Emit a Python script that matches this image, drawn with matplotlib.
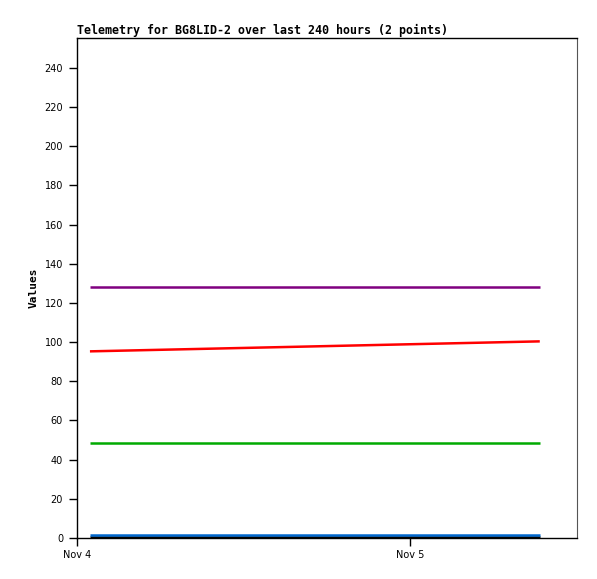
import matplotlib
matplotlib.use("Agg")
import matplotlib.pyplot as plt
from datetime import datetime

# two sample times
times = [datetime(2023, 11, 4, 0, 56), datetime(2023, 11, 5, 9, 22)]
series_purple = [128, 128]
series_red = [95.3, 100.4]
series_green = [48.4, 48.4]
series_blue = [1.7, 1.7]
series_black = [0.4, 0.4]

xlim = [datetime(2023, 11, 4, 0, 0), datetime(2023, 11, 5, 12, 3)]
xticks = [datetime(2023, 11, 4), datetime(2023, 11, 5)]
xticklabels = ["Nov 4", "Nov 5"]
yticks = list(range(0, 241, 20))

fig = plt.figure(figsize=(5.97, 5.79), dpi=100)
ax = fig.add_axes([77/597, 41/579, 500/597, 500/579])

for vals, col in [(series_black, "#000000"), (series_blue, "#0066cc"),
                  (series_green, "#00aa00"), (series_red, "#ff0000"),
                  (series_purple, "#800080")]:
    ax.plot(times, vals, color=col, lw=1.8, solid_capstyle="butt")

ax.set_xlim(xlim)
ax.set_ylim(0, 255.3)
ax.set_xticks(xticks)
ax.set_xticklabels(xticklabels)
ax.set_yticks(yticks)

for lab in ax.get_xticklabels() + ax.get_yticklabels():
    lab.set_fontsize(7)
    lab.set_fontfamily("DejaVu Sans")

ax.tick_params(axis="both", direction="out", length=6, width=1, colors="black", pad=4)
ax.tick_params(axis="x", pad=3)
for s in ["left", "bottom", "top"]:
    ax.spines[s].set_color("black")
    ax.spines[s].set_linewidth(1)
ax.spines["right"].set_color("#555555")

ax.set_ylabel("Values", fontsize=8, fontweight="bold", family="DejaVu Sans Mono", labelpad=4)
ax.set_title("Telemetry for BG8LID-2 over last 240 hours (2 points)", loc="left",
             fontsize=8.4, fontweight="bold", family="DejaVu Sans Mono", pad=3)

fig.savefig("out.png", dpi=100)
